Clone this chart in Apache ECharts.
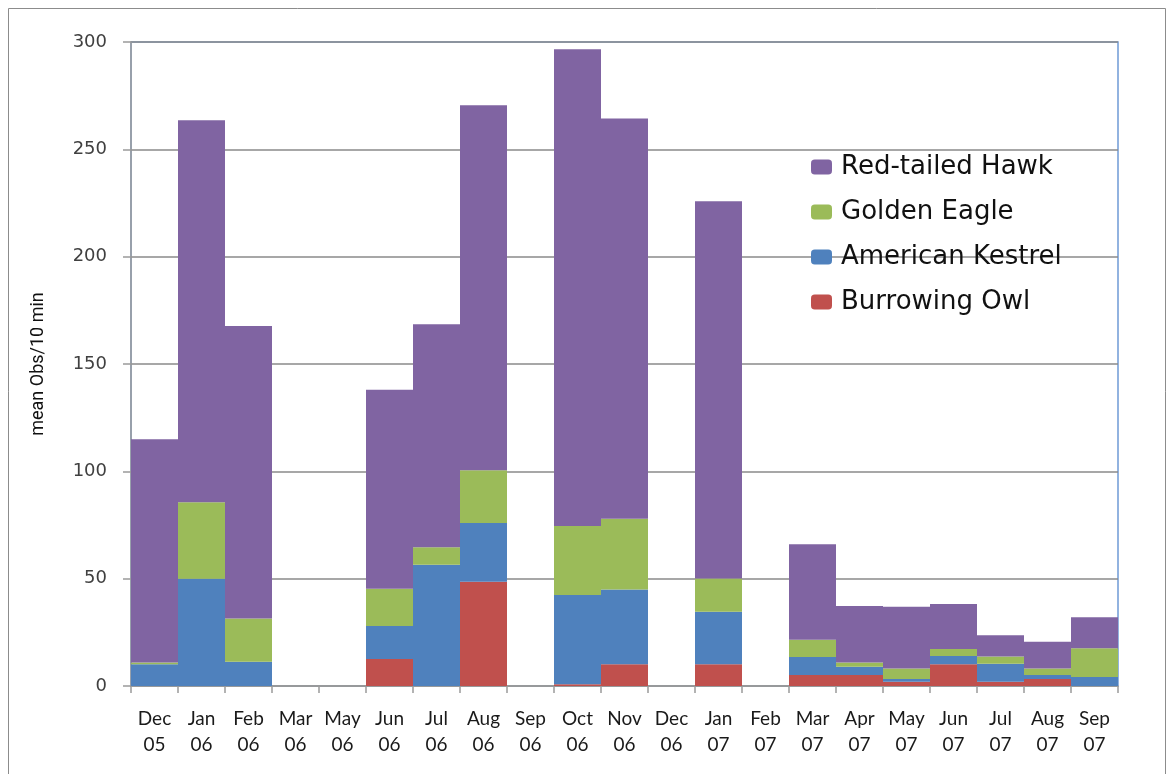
<!DOCTYPE html>
<html>
<head>
<meta charset="utf-8">
<script src="https://cdn.jsdelivr.net/npm/echarts@6/dist/echarts.min.js"></script>
<style>
html,body{margin:0;padding:0;background:#fff;}
#chart{width:1172px;height:774px;}
</style>
</head>
<body>
<div id="chart"></div>
<script>
	/*月份类别*/
	var months = ['Dec\n05','Jan\n06','Feb\n06','Mar\n06','May\n06','Jun\n06','Jul\n06','Aug\n06','Sep\n06','Oct\n06','Nov\n06',
		'Dec\n06','Jan\n07','Feb\n07','Mar\n07','Apr\n07','May\n07','Jun\n07','Jul\n07','Aug\n07','Sep\n07'];

	/*各物种数值(堆叠,从下到上)*/
	var burrowingOwl    = [0, 0, 0, 0, 0, 12.6, 0, 48.6, 0, 0.8, 10.1, 0, 10.1, 0, 5.1, 5.1, 2.0, 10.1, 2.0, 3.3, 0];
	var americanKestrel = [10.1, 50, 11.3, 0, 0, 15.4, 56.5, 27.3, 0, 41.6, 34.8, 0, 24.5, 0, 8.4, 3.9, 1.3, 3.9, 8.4, 1.8, 4.2];
	var goldenEagle     = [0.8, 35.6, 20.2, 0, 0, 17.3, 8.1, 24.6, 0, 32.1, 33.0, 0, 15.5, 0, 8.1, 1.9, 4.9, 3.2, 3.3, 3.1, 13.4];
	var redTailedHawk   = [104, 178, 136.2, 0, 0, 92.7, 103.9, 170, 0, 222.1, 186.5, 0, 175.7, 0, 44.4, 26.4, 28.7, 21, 9.9, 12.4, 14.4];

	var yTicks = [0, 50, 100, 150, 200, 250, 300];

	/*生成一个堆叠柱系列*/
	function makeSeries(name, data, color){
		return {
			name : name,
			type : 'bar',
			stack : 'total',
			barCategoryGap : 0,
			barGap : 0,
			data : data,
			itemStyle : {
				color : color
			},
			emphasis : { disabled : true }
		};
	}

	var myChart = echarts.init(document.getElementById('chart'));
	var option = {
		animation : false,
		backgroundColor : '#fff',
		graphic : [{
			type : 'rect',
			shape : { x : 8.5, y : 8.5, width : 1157, height : 770 },
			style : { fill : 'none', stroke : '#8c8c8c', lineWidth : 1 },
			silent : true
		}],
		grid : {
			left : 131,
			right : 54,
			top : 42,
			bottom : 88,
			show : true,
			borderColor : '#6f9bd6',
			borderWidth : 1.5
		},
		legend : {
			orient : 'vertical',
			left : 806,
			top : 149,
			itemWidth : 21,
			itemHeight : 15,
			itemGap : 19,
			textStyle : {
				fontFamily : 'DejaVu Sans',
				fontSize : 26,
				color : '#111',
				padding : [0, 0, 0, 4]
			},
			data : ['Red-tailed Hawk', 'Golden Eagle', 'American Kestrel', 'Burrowing Owl']
		},
		xAxis : {
			type : 'category',
			data : months,
			axisLine : { lineStyle : { color : '#9a9a9a', width : 1.5 } },
			axisTick : { show : true, length : 7, lineStyle : { color : '#9a9a9a', width : 1.5 } },
			axisLabel : {
				interval : 0,
				margin : 20,
				fontFamily : 'Lato',
				fontSize : 19,
				lineHeight : 26,
				color : '#1a1a1a'
			}
		},
		yAxis : {
			type : 'value',
			min : yTicks[0],
			max : yTicks[yTicks.length - 1],
			interval : 50,
			name : 'mean Obs/10 min',
			nameLocation : 'middle',
			nameRotate : 90,
			nameGap : 84,
			nameTextStyle : {
				fontFamily : 'Roboto',
				fontSize : 18,
				color : '#111'
			},
			axisLine : { show : true, lineStyle : { color : '#9a9a9a', width : 1.5 } },
			axisTick : { show : true, length : 8, lineStyle : { color : '#9a9a9a', width : 1.5 } },
			axisLabel : {
				margin : 24,
				fontFamily : 'DejaVu Sans',
				fontSize : 18,
				color : '#404040'
			},
			splitLine : { lineStyle : { color : '#8a8a8a', width : 1.5 } }
		},
		series : [
			makeSeries('Burrowing Owl', burrowingOwl, '#c0504d'),
			makeSeries('American Kestrel', americanKestrel, '#4f81bd'),
			makeSeries('Golden Eagle', goldenEagle, '#9bbb59'),
			makeSeries('Red-tailed Hawk', redTailedHawk, '#8064a2')
		]
	};
	myChart.setOption(option);
</script>
</body>
</html>
